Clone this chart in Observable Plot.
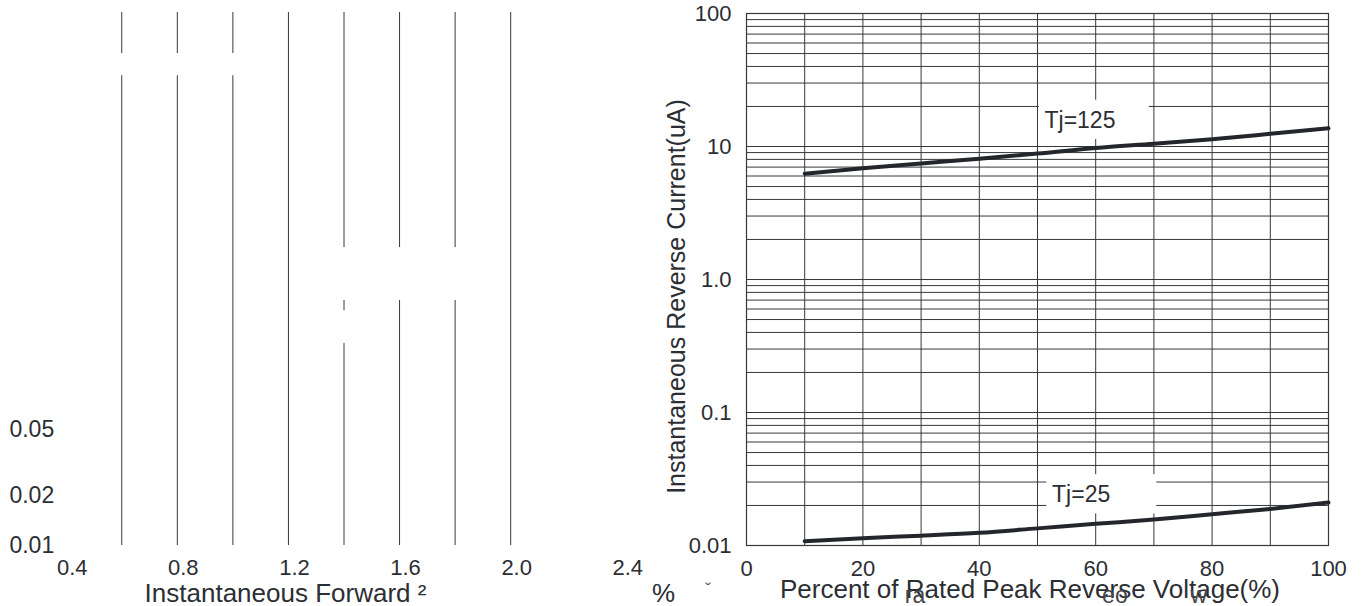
<!DOCTYPE html>
<html><head><meta charset="utf-8">
<script src="https://cdn.jsdelivr.net/npm/d3@7"></script>
<script src="https://cdn.jsdelivr.net/npm/@observablehq/plot@0.6"></script>
<style>
body{margin:0;background:#fff;}
#wrap{position:relative;width:1368px;height:606px;overflow:hidden;}
#left{position:absolute;left:0;top:0;}
#right{position:absolute;left:680px;top:0;}
</style></head><body><div id="wrap"><div id="left"></div><div id="right"></div></div>
<script>
// ---- Left panel (forward characteristic, curves lost) ----
const forwardTicks = [0.4, 0.8, 1.2, 1.6, 2.0, 2.4];
const forwardGrid = [0.6, 0.8, 1.0, 1.2, 1.4, 1.6, 1.8, 2.0];
const forwardCurrentTicks = [0.01, 0.02, 0.05];
const forwardCurrentLabels = ["0.01", "0.02", "0.05"];
const forwardTitle = "Instantaneous Forward \u00B2";
// blank areas where lost labels interrupted the grid (data units)
const gapX1 = [0.55, 1.35, 1.38];
const gapX2 = [1.05, 1.85, 1.42];
const gapY1 = [6.67, 0.297, 0.164];
const gapY2 = [9.06, 0.618, 0.258];

// ---- Right panel (reverse characteristic) ----
const percentTicks = [0, 20, 40, 60, 80, 100];
const percentGrid = [0, 10, 20, 30, 40, 50, 60, 70, 80, 90, 100];
const currentTicks = [0.01, 0.1, 1, 10, 100];
const currentTickLabels = ["0.01", "0.1", "1.0", "10", "100"];
const decades = [0.01, 0.1, 1, 10];
const multiples = [1, 2, 3, 4, 5, 6, 7, 8, 9];
const percent = [10, 20, 30, 40, 50, 60, 70, 80, 90, 100];
const tj125 = [6.25, 6.85, 7.45, 8.1, 8.85, 9.75, 10.5, 11.35, 12.45, 13.7];
const tj25 = [0.01077, 0.01135, 0.01185, 0.01245, 0.01345, 0.01455, 0.01567, 0.01718, 0.01885, 0.02103];
const labelText = ["Tj=125", "Tj=25"];
const labelX = [51.2, 52.5];
const labelY = [15.7, 0.024];
const fragmentText = ["ra", "eo", "w"];
const fragmentX = [28.95, 63.3, 77.7];
const yTitle = "Instantaneous Reverse Current(uA)";
const xTitle = "Percent of Rated Peak Reverse Voltage(%)";

const FONT = "'Liberation Sans', Arial, sans-serif";
const INK = "#2b2e33";
const GRID = "#35383c";

// Left
const gaps = gapX1.map((x1, i) => ({x1, x2: gapX2[i], y1: gapY1[i], y2: gapY2[i]}));
const leftTicks = forwardCurrentTicks.map((v, i) => ({v, t: forwardCurrentLabels[i]}));
const left = Plot.plot({
  width: 680, height: 606,
  marginLeft: 65.7, marginRight: 58.7, marginTop: 12, marginBottom: 61,
  style: {fontFamily: FONT, color: INK, background: "white", overflow: "visible"},
  x: {domain: [0.4, 2.4], label: null},
  y: {type: "log", domain: [0.01, 16], label: null, axis: null},
  marks: [
    Plot.ruleX(forwardGrid, {stroke: GRID, strokeWidth: 1}),
    Plot.rect(gaps, {x1: "x1", x2: "x2", y1: "y1", y2: "y2", fill: "white"}),
    Plot.axisX({ticks: forwardTicks, tickSize: 0, tickPadding: 14, dx: 6, fontSize: 22, tickFormat: d => d.toFixed(1), label: null}),
    Plot.text(leftTicks, {y: "v", text: "t", frameAnchor: "left", textAnchor: "end", dx: -12, fontSize: 23, fill: INK}),
    Plot.text([forwardTitle], {frameAnchor: "bottom", textAnchor: "middle", dx: -58.5, dy: 56, lineAnchor: "bottom", fontSize: 26, fill: INK}),
    Plot.text(["%"], {frameAnchor: "bottom-right", textAnchor: "middle", dx: 41.7, dy: 56, lineAnchor: "bottom", fontSize: 26, fill: INK})
  ]
});
document.getElementById("left").appendChild(left);

// Right
const hGrid = decades.flatMap(d => multiples.map(m => +(d * m).toPrecision(3))).concat([100]);
const series = [
  ...percent.map((p, i) => ({p, v: tj125[i], s: "125"})),
  ...percent.map((p, i) => ({p, v: tj25[i], s: "25"}))
];
const labels = labelText.map((t, i) => ({t, x: labelX[i], y: labelY[i]}));
const fragments = fragmentText.map((t, i) => ({t, x: fragmentX[i]}));
const tickLabel = new Map(currentTicks.map((t, i) => [t, currentTickLabels[i]]));
const right = Plot.plot({
  width: 688, height: 606,
  marginLeft: 66, marginRight: 40, marginTop: 13, marginBottom: 61,
  style: {fontFamily: FONT, color: INK, background: "white", overflow: "visible"},
  x: {domain: [0, 100], label: null},
  y: {type: "log", domain: [0.01, 100], label: null},
  marks: [
    Plot.ruleY(hGrid, {stroke: GRID, strokeWidth: 1}),
    Plot.ruleX(percentGrid, {stroke: GRID, strokeWidth: 1}),
    Plot.rect(labels, {x1: d => d.x - 0.9, x2: d => d.x + 18, y1: d => d.y * 0.72, y2: d => d.y * 1.42, fill: "white"}),
    Plot.frame({stroke: GRID, strokeWidth: 1.2}),
    Plot.line(series, {x: "p", y: "v", z: "s", stroke: "#23272b", strokeWidth: 4, curve: "monotone-x"}),
    Plot.text(labels, {x: "x", y: "y", text: "t", textAnchor: "start", fontSize: 23, fill: INK}),
    Plot.axisX({ticks: percentTicks, tickSize: 0, tickPadding: 15, fontSize: 22, label: null}),
    Plot.axisY({ticks: currentTicks, tickSize: 0, tickPadding: 15, fontSize: 22, tickFormat: d => tickLabel.get(d), label: null}),
    Plot.text([yTitle], {frameAnchor: "left", textAnchor: "middle", rotate: -90, dx: -62, dy: 17, lineAnchor: "bottom", fontSize: 25, fill: INK}),
    Plot.text([xTitle], {frameAnchor: "bottom", textAnchor: "middle", dx: -7.5, dy: 52, lineAnchor: "bottom", fontSize: 26, fill: INK}),
    Plot.text(fragments, {x: "x", frameAnchor: "bottom", textAnchor: "middle", text: "t", dy: 57, lineAnchor: "bottom", fontSize: 23, fill: "#44474b"}),
    Plot.text(["\u02C7"], {frameAnchor: "bottom-left", textAnchor: "middle", dx: -38.5, dy: 50, lineAnchor: "bottom", fontSize: 18, fill: "#55585c"})
  ]
});
document.getElementById("right").appendChild(right);
</script></body></html>
